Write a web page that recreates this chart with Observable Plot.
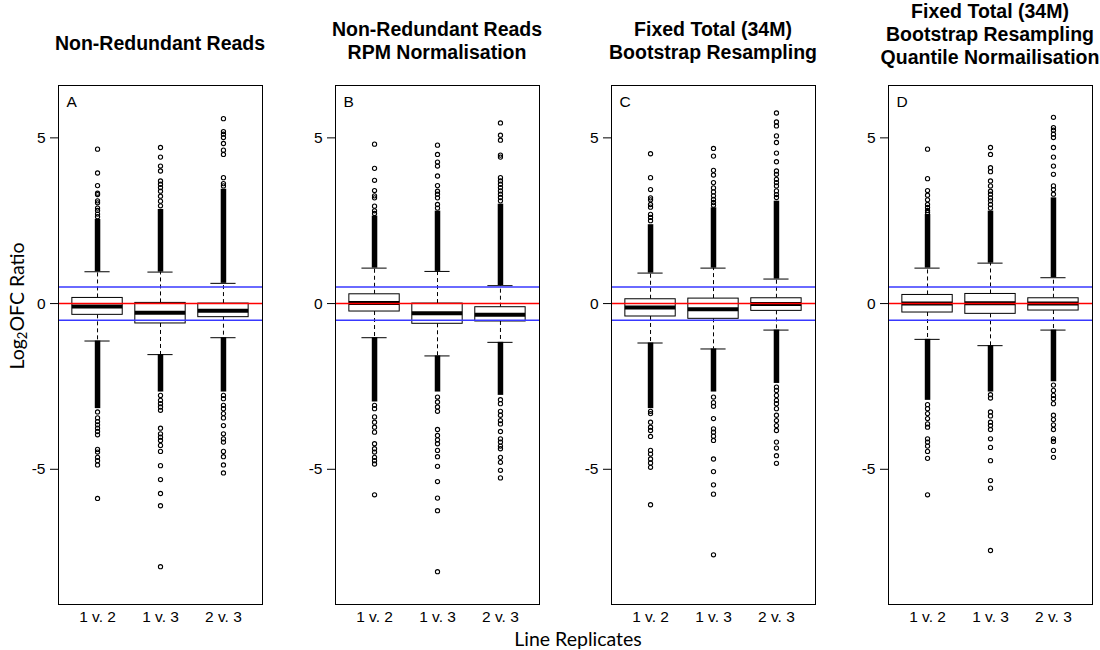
<!DOCTYPE html>
<html>
<head>
<meta charset="utf-8">
<script src="https://cdn.jsdelivr.net/npm/d3@7"></script>
<script src="https://cdn.jsdelivr.net/npm/@observablehq/plot@0.6"></script>
<style>
  body { margin: 0; background: #fff; }
  #root { position: relative; width: 1100px; height: 650px; overflow: hidden; background: #fff;
          font-family: "Liberation Sans", Arial, sans-serif; }
  .title { position: absolute; font-weight: bold; font-size: 19.5px; line-height: 1; white-space: nowrap;
           transform: translate(-50%, -50%); color: #000; }
  .panel { position: absolute; top: 70px; }
  .panel svg { background: transparent !important; overflow: visible; max-width: none; }
  .ylab { position: absolute; left: 18px; top: 306px; transform: translate(-50%, -50%) rotate(-90deg);
          font-family: Lato, "Open Sans", sans-serif; font-size: 19.5px; white-space: nowrap; line-height: 1; }
  .ylab sub { font-size: 13px; vertical-align: -3px; }
  .xlab { position: absolute; left: 578px; top: 639px; transform: translate(-50%, -50%);
          font-family: Lato, "Open Sans", sans-serif; font-size: 19.5px; white-space: nowrap; line-height: 1; z-index: 5; }
</style>
</head>
<body>
<div id="root"></div>
<script>
// ---------- data ----------
const groups = ["1 v. 2", "1 v. 3", "2 v. 3"];
const letters = ["A", "B", "C", "D"];
const titles = [
  ["Non-Redundant Reads"],
  ["Non-Redundant Reads", "RPM Normalisation"],
  ["Fixed Total (34M)", "Bootstrap Resampling"],
  ["Fixed Total (34M)", "Bootstrap Resampling", "Quantile Normailisation"]
];
const yTicks = [-5, 0, 5];
const yLimits = [-8.5, 6];
const refLine = 0;
const foldLines = [-0.5, 0.5];

// box statistics per panel (A..D), per group
const q1 = [[-0.34, -0.60, -0.41], [-0.24, -0.61, -0.54], [-0.39, -0.46, -0.22], [-0.27, -0.31, -0.21]];
const median = [[-0.09, -0.28, -0.22], [0.02, -0.29, -0.34], [-0.12, -0.17, -0.01], [0.0, 0.01, 0.0]];
const q3 = [[0.17, 0.02, 0.0], [0.28, 0.0, -0.11], [0.13, 0.15, 0.16], [0.26, 0.29, 0.16]];
const whiskerHi = [[0.96, 0.95, 0.61], [1.07, 0.97, 0.54], [0.92, 1.07, 0.74], [1.07, 1.22, 0.78]];
const whiskerLo = [[-1.13, -1.54, -1.03], [-1.03, -1.58, -1.17], [-1.19, -1.37, -0.80], [-1.08, -1.27, -0.80]];
// extent of the densely overplotted outlier columns
const denseHi = [[2.54, 2.84, 3.45], [2.64, 2.79, 3.0], [2.38, 2.89, 3.09], [2.69, 2.79, 3.19]];
const denseLo = [[-3.17, -2.67, -2.67], [-2.97, -2.67, -2.77], [-3.17, -2.67, -2.41], [-2.92, -2.67, -2.36]];
// individual (sparse) outliers
const outUp = [
  [[2.62, 2.7, 2.81, 2.88, 3.04, 3.1, 3.29, 3.33, 3.56, 3.94, 4.66],
   [2.95, 3.09, 3.24, 3.39, 3.5, 3.6, 3.7, 4.0, 4.15, 4.42, 4.71],
   [3.55, 3.62, 3.8, 4.5, 4.63, 4.83, 5.01, 5.11, 5.19, 5.58]],
  [[2.72, 2.8, 2.94, 3.19, 3.25, 3.41, 3.72, 4.08, 4.81],
   [2.88, 2.99, 3.19, 3.3, 3.39, 3.56, 3.85, 4.15, 4.27, 4.5, 4.78],
   [3.1, 3.2, 3.3, 3.4, 3.5, 3.6, 3.7, 3.8, 4.42, 4.48, 4.93, 5.08, 5.45]],
  [[2.5, 2.6, 2.69, 2.91, 2.99, 3.13, 3.19, 3.44, 3.8, 4.52],
   [2.97, 3.05, 3.14, 3.25, 3.37, 3.49, 3.65, 3.88, 4.02, 4.45, 4.68],
   [3.2, 3.29, 3.4, 3.55, 3.65, 3.75, 3.9, 4.0, 4.28, 4.54, 4.86, 5.06, 5.36, 5.48, 5.75]],
  [[2.75, 2.81, 2.9, 2.99, 3.13, 3.27, 3.41, 3.77, 4.66],
   [2.88, 2.99, 3.1, 3.19, 3.3, 3.39, 3.55, 3.7, 3.98, 4.1, 4.5, 4.71],
   [3.3, 3.44, 3.55, 3.9, 4.15, 4.42, 4.71, 5.01, 5.11, 5.23, 5.31, 5.62]]
];
const outDown = [
  [[-3.27, -3.45, -3.56, -3.66, -3.76, -3.86, -3.96, -4.4, -4.48, -4.64, -4.74, -4.87, -5.88],
   [-2.77, -2.92, -3.02, -3.12, -3.22, -3.76, -3.93, -4.03, -4.13, -4.28, -4.46, -4.89, -5.31, -5.73, -6.1, -7.94],
   [-2.77, -2.87, -3.07, -3.17, -3.32, -3.45, -3.68, -3.93, -4.08, -4.18, -4.46, -4.62, -4.87, -5.11]],
  [[-3.07, -3.17, -3.42, -3.58, -3.73, -3.88, -4.23, -4.38, -4.48, -4.64, -4.74, -4.84, -5.77],
   [-2.82, -2.97, -3.12, -3.25, -3.8, -3.98, -4.11, -4.23, -4.43, -4.62, -4.91, -5.37, -5.87, -6.25, -8.09],
   [-2.9, -3.02, -3.25, -3.37, -3.53, -3.63, -3.86, -4.08, -4.18, -4.3, -4.38, -4.64, -4.79, -5.03, -5.26]],
  [[-3.25, -3.32, -3.58, -3.73, -3.83, -4.01, -4.43, -4.54, -4.69, -4.81, -4.94, -6.07],
   [-2.82, -2.99, -3.1, -3.47, -3.78, -3.88, -4.0, -4.13, -4.69, -5.07, -5.47, -5.75, -7.58],
   [-2.52, -2.62, -2.77, -2.92, -3.02, -3.17, -3.37, -3.53, -3.68, -3.83, -4.18, -4.36, -4.59, -4.82]],
  [[-3.05, -3.17, -3.32, -3.47, -3.63, -3.73, -4.08, -4.18, -4.3, -4.46, -4.67, -5.77],
   [-2.75, -2.85, -3.27, -3.39, -3.58, -3.68, -3.8, -4.08, -4.34, -4.74, -5.34, -5.57, -7.45],
   [-2.46, -2.62, -2.77, -2.87, -3.02, -3.37, -3.5, -3.66, -3.8, -4.08, -4.16, -4.43, -4.64]]
];

// ---------- layout ----------
const root = document.getElementById("root");
const panelW = 277, mL = 58, mR = 15, mT = 15, mB = 28, svgH = 562;
const panelLeft = [0, 277, 553, 830];
const titleLineY = [[44], [30, 53], [30, 53], [12, 35, 58]];

// R-style axis extension (4%)
const ext = (a, b) => { const d = (b - a) * 0.04; return [a - d, b + d]; };
const yDomain = ext(yLimits[0], yLimits[1]);
const xDomain = ext(0.5, groups.length + 0.5);

letters.forEach((letter, p) => {
  const boxes = groups.map((g, i) => ({
    x: i + 1, q1: q1[p][i], med: median[p][i], q3: q3[p][i],
    lo: whiskerLo[p][i], hi: whiskerHi[p][i], dHi: denseHi[p][i], dLo: denseLo[p][i]
  }));
  const outs = [];
  groups.forEach((g, i) => {
    outUp[p][i].forEach(v => outs.push({x: i + 1, v}));
    outDown[p][i].forEach(v => outs.push({x: i + 1, v}));
  });

  const chart = Plot.plot({
    width: panelW, height: svgH,
    marginLeft: mL, marginRight: mR, marginTop: mT, marginBottom: mB,
    x: {type: "linear", domain: xDomain},
    y: {type: "linear", domain: yDomain},
    style: {fontFamily: "'Liberation Sans', Arial, sans-serif", fontSize: "15.5px", color: "black", background: "transparent"},
    marks: [
      // whiskers
      Plot.ruleX(boxes, {x: "x", y1: "q3", y2: "hi", stroke: "black", strokeDasharray: "4,3"}),
      Plot.ruleX(boxes, {x: "x", y1: "q1", y2: "lo", stroke: "black", strokeDasharray: "4,3"}),
      // dense outlier columns
      Plot.ruleX(boxes, {x: "x", y1: "hi", y2: "dHi", stroke: "black", strokeWidth: 5.5}),
      Plot.ruleX(boxes, {x: "x", y1: "lo", y2: "dLo", stroke: "black", strokeWidth: 5.5}),
      // staples
      Plot.ruleY(boxes, {x1: d => d.x - 0.2, x2: d => d.x + 0.2, y: "hi", stroke: "black"}),
      Plot.ruleY(boxes, {x1: d => d.x - 0.2, x2: d => d.x + 0.2, y: "lo", stroke: "black"}),
      // boxes
      Plot.rect(boxes, {x1: d => d.x - 0.4, x2: d => d.x + 0.4, y1: "q1", y2: "q3", fill: "white", stroke: "black"}),
      Plot.ruleY(boxes, {x1: d => d.x - 0.4, x2: d => d.x + 0.4, y: "med", stroke: "black", strokeWidth: 4}),
      // outliers
      Plot.dot(outs, {x: "x", y: "v", r: 2.1, stroke: "black", strokeWidth: 1.1, fill: "none"}),
      // reference lines
      Plot.ruleY(foldLines, {stroke: "#3838ff", strokeWidth: 1.5}),
      Plot.ruleY([refLine], {stroke: "#ff0000", strokeWidth: 1.5}),
      Plot.frame({stroke: "black"}),
      Plot.axisY({ticks: yTicks, tickSize: 8, tickPadding: 5, label: null, fontSize: 15.5, tickFormat: d => String(d)}),
      Plot.axisX({ticks: [1, 2, 3], tickFormat: d => groups[d - 1], tickSize: 0, tickPadding: 6, label: null, fontSize: 15.5}),
      Plot.text([letter], {frameAnchor: "top-left", dx: 8, dy: 10, fontSize: 15.5, fill: "black"})
    ]
  });
  const wrap = document.createElement("div");
  wrap.className = "panel";
  wrap.style.left = panelLeft[p] + "px";
  wrap.appendChild(chart);
  root.appendChild(wrap);

  const cx = panelLeft[p] + mL + (panelW - mL - mR) / 2;
  titles[p].forEach((line, k) => {
    const t = document.createElement("div");
    t.className = "title";
    t.textContent = line;
    t.style.left = cx + "px";
    t.style.top = titleLineY[p][k] + "px";
    root.appendChild(t);
  });
});

const yl = document.createElement("div");
yl.className = "ylab";
yl.innerHTML = "Log<sub>2</sub>OFC Ratio";
root.appendChild(yl);

const xl = document.createElement("div");
xl.className = "xlab";
xl.textContent = "Line Replicates";
root.appendChild(xl);
</script>
</body>
</html>
